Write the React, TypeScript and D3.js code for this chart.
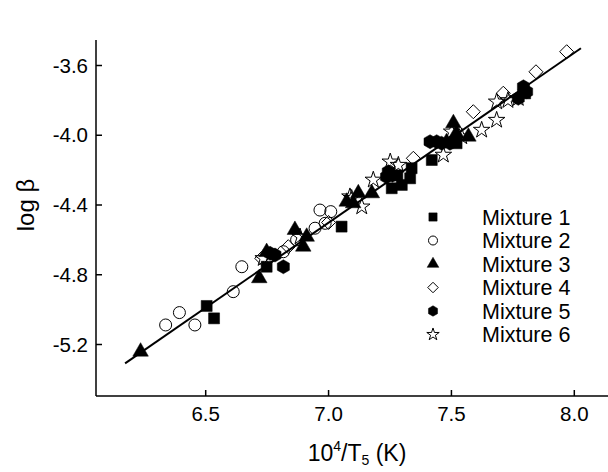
import React from "react";
import * as d3 from "d3";

const xTicks = [6.5, 7.0, 7.5, 8.0];
const yTicks = [-3.6, -4.0, -4.4, -4.8, -5.2];
const seriesNames = ["Mixture 1", "Mixture 2", "Mixture 3", "Mixture 4", "Mixture 5", "Mixture 6"];

const mix1: [number, number][] = [
  [6.504, -4.979], [6.534, -5.05], [6.748, -4.754], [7.053, -4.524], [7.257, -4.304],
  [7.298, -4.285], [7.332, -4.247], [7.338, -4.189], [7.42, -4.142], [7.28, -4.23],
  [7.521, -4.046], [7.80, -3.76],
];
const mix2: [number, number][] = [
  [6.337, -5.088], [6.393, -5.017], [6.456, -5.088], [6.612, -4.897], [6.647, -4.754],
  [6.816, -4.668], [6.965, -4.429], [7.009, -4.438], [6.945, -4.533], [6.986, -4.505],
  [6.87, -4.60],
];
const mix3: [number, number][] = [
  [6.235, -5.241], [6.718, -4.82], [6.748, -4.67], [6.863, -4.543], [6.897, -4.639],
  [6.911, -4.582], [7.074, -4.381], [7.10, -4.39], [7.121, -4.333], [7.176, -4.333],
  [7.508, -3.931], [7.569, -4.008], [7.48, -4.04], [7.52, -3.99],
];
const mix4: [number, number][] = [
  [7.969, -3.521], [7.844, -3.636], [7.711, -3.759], [7.589, -3.865], [7.345, -4.132],
  [6.728, -4.706], [6.836, -4.639], [7.0, -4.50],
];
const mix5: [number, number][] = [
  [6.782, -4.687], [6.816, -4.754], [6.762, -4.677], [7.236, -4.238], [7.243, -4.209],
  [7.26, -4.23], [7.413, -4.037], [7.44, -4.037], [7.46, -4.046], [7.494, -4.046],
  [7.793, -3.722], [7.806, -3.75], [7.772, -3.788],
];
const mix6: [number, number][] = [
  [6.734, -4.706], [6.884, -4.582], [7.087, -4.352], [7.135, -4.41], [7.094, -4.361],
  [7.182, -4.256], [7.251, -4.152], [7.284, -4.171], [7.467, -4.113], [7.501, -3.98],
  [7.542, -4.008], [7.623, -3.97], [7.684, -3.913], [7.684, -3.808], [7.73, -3.80],
  [7.772, -3.788],
];
const fitLine: [number, number][] = [[6.172, -5.308], [8.027, -3.501]];

const x = d3.scaleLinear().domain([6.5, 8.0]).range([205.7, 574.3]);
const y = d3.scaleLinear().domain([-3.6, -5.2]).range([65.5, 344.5]);

const FONT = "'Liberation Sans', Arial, sans-serif";

function hexPath(r: number) {
  const pts = d3.range(6).map((i) => {
    const a = (Math.PI / 3) * i + Math.PI / 6;
    return [r * Math.cos(a), r * Math.sin(a)];
  });
  return "M" + pts.map((p) => p.join(",")).join("L") + "Z";
}
function diamondPath(r: number) {
  return `M0,${-r}L${r},0L0,${r}L${-r},0Z`;
}

type Kind = "square" | "circle" | "triangle" | "diamond" | "hex" | "star";
const kinds: Kind[] = ["square", "circle", "triangle", "diamond", "hex", "star"];

function markerPath(kind: Kind, s: number): string {
  switch (kind) {
    case "square":
      return d3.symbol(d3.symbolSquare, 121 * s * s)()!;
    case "circle":
      return d3.symbol(d3.symbolCircle, Math.PI * 36 * s * s)()!;
    case "triangle":
      return d3.symbol(d3.symbolTriangle, 105 * s * s)()!;
    case "diamond":
      return diamondPath(7 * s);
    case "hex":
      return hexPath(7 * s);
    case "star":
      return d3.symbol(d3.symbolStar, 85 * s * s)()!;
  }
}
const filled: Record<Kind, boolean> = {
  square: true, circle: false, triangle: true, diamond: false, hex: true, star: false,
};

function Marker({ kind, cx, cy, s = 1 }: { kind: Kind; cx: number; cy: number; s?: number }) {
  const f = filled[kind];
  return (
    <path
      d={markerPath(kind, s)}
      transform={`translate(${cx},${cy})`}
      fill={f ? "#000" : "#fff"}
      fillOpacity={f ? 1 : 0}
      stroke="#000"
      strokeWidth={f ? 0.5 : 1}
    />
  );
}

export default function App() {
  const series = [mix1, mix2, mix3, mix4, mix5, mix6];
  const line = d3.line<[number, number]>().x((d) => x(d[0])).y((d) => y(d[1]));
  const axisLeft = 96;
  const axisBottom = 396;
  const axisTop = 40;
  return (
    <svg
      width={608}
      height={472}
      style={{ position: "absolute", left: 0, top: 0, background: "#fff" }}
      fontFamily={FONT}
    >
      <rect width={608} height={472} fill="#fff" />
      <line x1={axisLeft} x2={axisLeft} y1={axisTop} y2={axisBottom} stroke="#000" strokeWidth={1.5} />
      <line x1={axisLeft} x2={608} y1={axisBottom} y2={axisBottom} stroke="#000" strokeWidth={1.5} />
      {yTicks.map((t) => (
        <g key={t}>
          <line x1={axisLeft} x2={axisLeft + 6} y1={y(t)} y2={y(t)} stroke="#000" strokeWidth={1.5} />
          <text x={axisLeft - 8} y={y(t)} dy="0.35em" textAnchor="end" fontSize={20.5}>
            {t.toFixed(1)}
          </text>
        </g>
      ))}
      {xTicks.map((t) => (
        <g key={t}>
          <line x1={x(t)} x2={x(t)} y1={axisBottom} y2={axisBottom - 6} stroke="#000" strokeWidth={1.5} />
          <text x={x(t)} y={axisBottom + 25} textAnchor="middle" fontSize={20.5}>
            {t.toFixed(1)}
          </text>
        </g>
      ))}
      <text x={357} y={461} textAnchor="middle" fontSize={23}>
        10<tspan dy={-10} fontSize={14}>4</tspan>
        <tspan dy={10}>/T</tspan>
        <tspan dy={4} fontSize={14}>5</tspan>
        <tspan dy={-4}> (K)</tspan>
      </text>
      <text transform="translate(34,205) rotate(-90)" textAnchor="middle" fontSize={24}>
        log β
      </text>
      <path d={line(fitLine)!} stroke="#000" strokeWidth={2} fill="none" />
      {series.map((data, i) => (
        <g key={i}>
          {data.map((d, j) => (
            <Marker key={j} kind={kinds[i]} cx={x(d[0])} cy={y(d[1])} />
          ))}
        </g>
      ))}
      {seriesNames.map((n, i) => (
        <g key={n} transform={`translate(0,${217 + i * 23.5})`}>
          <Marker kind={kinds[i]} cx={433} cy={0} s={0.75} />
          <text x={482} y={0} dy="0.35em" fontSize={21.5}>
            {n}
          </text>
        </g>
      ))}
    </svg>
  );
}
